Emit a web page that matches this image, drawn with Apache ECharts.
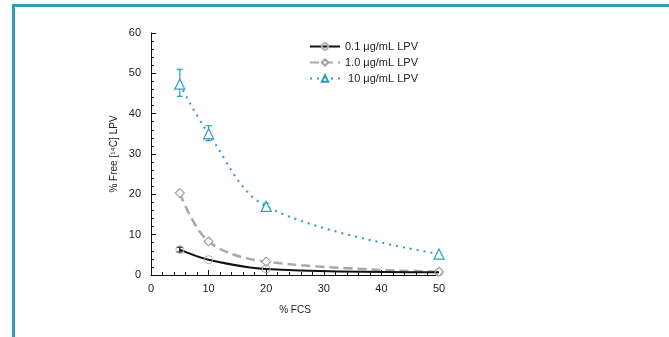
<!DOCTYPE html>
<html>
<head>
<meta charset="utf-8">
<script src="https://cdn.jsdelivr.net/npm/echarts@6/dist/echarts.min.js"></script>
<style>
html,body{margin:0;padding:0;background:#fff;}
#e1{width:669px;height:337px;}
</style>
</head>
<body>
<div id="e1"></div>
<script>
var fcs = [5, 10, 20, 50];
var names = ['0.1 μg/mL LPV', '1.0 μg/mL LPV', ' 10 μg/mL LPV'];
var low = [6.3, 3.8, 1.5, 0.7];
var mid = [20.3, 8.3, 3.3, 0.8];
var high = [47.3, 35.0, 17.0, 5.2];
// error bars: [x, low, high]
var errLow = [[5, 5.7, 6.9]];
var errHigh = [[5, 44.3, 51.0], [10, 33.3, 37.0], [20, 16.3, 17.8]];

var font = '"Liberation Sans", Arial, sans-serif';
var blue = '#2b9cc0';

function pairs(xs, ys) {
	var out = [];
	for (var i = 0; i < xs.length; i++) out.push([xs[i], ys[i]]);
	return out;
}

function errSeries(data, color) {
	return {
		type: 'custom',
		silent: true,
		z: 1,
		data: data,
		renderItem: function(params, api) {
			var top = api.coord([api.value(0), api.value(2)]);
			var bot = api.coord([api.value(0), api.value(1)]);
			var w = 3;
			var st = {stroke: color, lineWidth: 1.2};
			return {
				type: 'group',
				children: [
					{type: 'line', shape: {x1: top[0], y1: top[1], x2: bot[0], y2: bot[1]}, style: st},
					{type: 'line', shape: {x1: top[0] - w, y1: top[1], x2: top[0] + w, y2: top[1]}, style: st},
					{type: 'line', shape: {x1: bot[0] - w, y1: bot[1], x2: bot[0] + w, y2: bot[1]}, style: st}
				]
			};
		}
	};
}

var e1 = echarts.init(document.getElementById('e1'));
var option = {
	animation: false,
	textStyle: {fontFamily: font},
	graphic: [
		{type: 'rect', shape: {x: 12, y: 4, width: 660, height: 3}, style: {fill: '#3399bf'}},
		{type: 'rect', shape: {x: 12, y: 4, width: 3, height: 340}, style: {fill: '#3399bf'}}
	],
	grid: {left: 151, right: 230, top: 33, bottom: 62},
	legend: {
		orient: 'vertical',
		left: 304,
		top: 36,
		itemWidth: 30,
		itemHeight: 8,
		itemGap: 5,
		textStyle: {fontFamily: font, fontSize: 11, color: '#222'},
		data: names
	},
	xAxis: {
		type: 'value',
		min: 0, max: 50, interval: 10,
		name: '% FCS',
		nameLocation: 'middle',
		nameGap: 30,
		nameTextStyle: {fontFamily: font, fontSize: 10, color: '#222'},
		axisLine: {lineStyle: {color: '#111', width: 1}},
		axisTick: {inside: true, length: 5, lineStyle: {color: '#111'}},
		minorTick: {show: true, splitNumber: 5, length: 3, lineStyle: {color: '#111'}},
		axisLabel: {fontFamily: font, fontSize: 11, color: '#222', margin: 8},
		splitLine: {show: false}
	},
	yAxis: {
		type: 'value',
		min: 0, max: 60, interval: 10,
		name: '% Free [¹⁴C] LPV',
		nameLocation: 'middle',
		nameGap: 32,
		nameRotate: 90,
		nameTextStyle: {fontFamily: font, fontSize: 10, color: '#222'},
		axisLine: {show: true, lineStyle: {color: '#111', width: 1}},
		axisTick: {show: true, inside: true, length: 5, lineStyle: {color: '#111'}},
		minorTick: {show: true, splitNumber: 5, length: 3, lineStyle: {color: '#111'}},
		axisLabel: {fontFamily: font, fontSize: 11, color: '#222', margin: 10},
		splitLine: {show: false}
	},
	series: [
		errSeries(errLow, '#111'),
		errSeries(errHigh, blue),
		{
			name: names[0],
			type: 'line',
			smooth: 0.35,
			data: pairs(fcs, low),
			symbol: 'circle',
			symbolSize: 8,
			lineStyle: {color: '#111', width: 2},
			itemStyle: {color: 'rgba(255,255,255,0)', borderColor: '#b0b0b0', borderWidth: 1},
			z: 3
		},
		{
			name: names[1],
			type: 'line',
			smooth: 0.35,
			data: pairs(fcs, mid),
			symbol: 'diamond',
			symbolSize: 9,
			lineStyle: {color: '#a8a8a8', width: 2.5, type: [9, 5]},
			itemStyle: {color: '#fff', borderColor: '#a0a0a0', borderWidth: 1.2},
			z: 2
		},
		{
			name: names[2],
			type: 'line',
			smooth: 0.35,
			data: pairs(fcs, high),
			symbol: 'triangle',
			symbolSize: 10,
			lineStyle: {color: blue, width: 2, type: [2, 5]},
			itemStyle: {color: '#fff', borderColor: blue, borderWidth: 1.2},
			z: 2
		}
	]
};
e1.setOption(option);
</script>
</body>
</html>
